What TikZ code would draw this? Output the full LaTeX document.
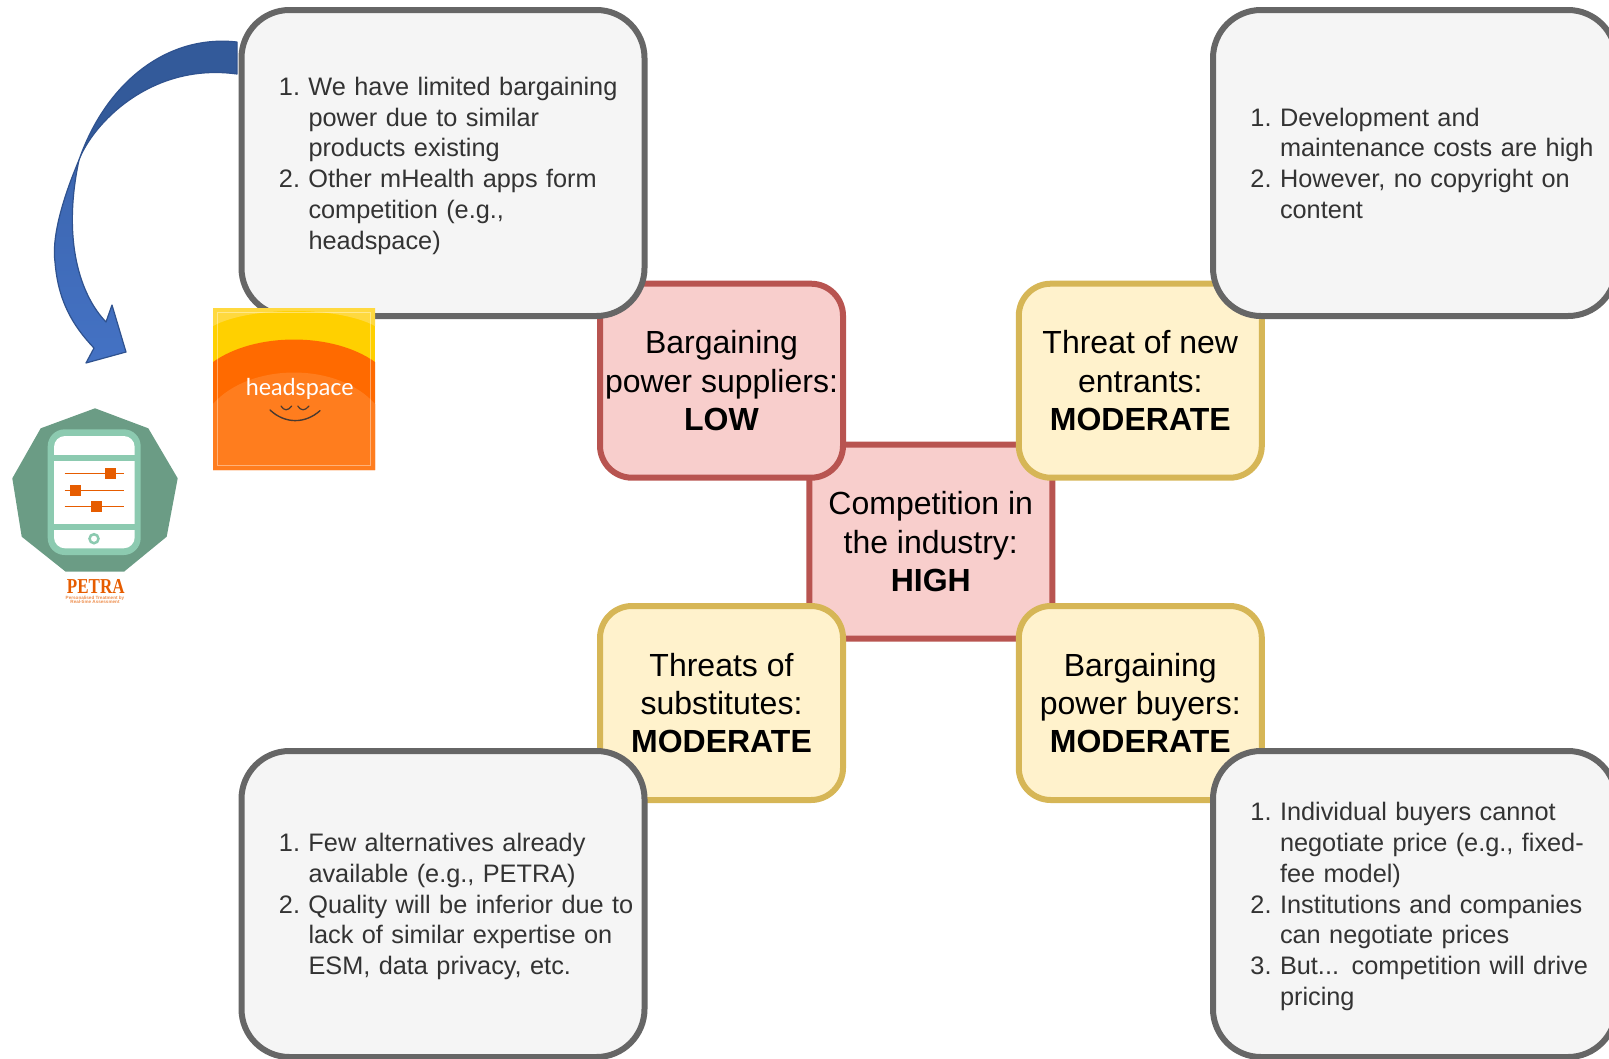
\documentclass[tikz,border=0pt]{standalone}
\usepackage{fontspec}
\setmainfont{Liberation Sans}
\newfontfamily\petrafont{Liberation Serif}
\newfontfamily\hsfont{Lato}
\definecolor{grayline}{HTML}{666666}
\definecolor{grayfill}{HTML}{F5F5F5}
\definecolor{grayink}{HTML}{333333}
\definecolor{redline}{HTML}{B85450}
\definecolor{redfill}{HTML}{F8CECC}
\definecolor{yelline}{HTML}{D6B656}
\definecolor{yelfill}{HTML}{FFF2CC}
\definecolor{arrowline}{HTML}{2F528F}
\definecolor{arrowback}{HTML}{335A9A}
\definecolor{arrowfront}{HTML}{4472C4}
\definecolor{arrowmid}{HTML}{3C66B0}
\definecolor{petragreen}{HTML}{6B9C85}
\definecolor{petralight}{HTML}{8CCAB0}
\definecolor{petraorange}{HTML}{E65C00}
\definecolor{hsyellow}{HTML}{FFD000}
\definecolor{hspale}{HTML}{FFD93F}
\definecolor{hsdeep}{HTML}{FF6A00}
\definecolor{hsorange}{HTML}{FF7D1E}
\definecolor{hssmile}{HTML}{4A3A30}
\tikzset{
  forcebox/.style={draw, line width=6pt, rounded corners=32pt, inner sep=0pt,
    minimum width=243pt, minimum height=194pt, align=center, text=black,
    font=\fontsize{32}{38.4}\selectfont,
    execute at begin node={\rule{0pt}{31pt}}},
  redbox/.style={forcebox, draw=redline, fill=redfill},
  yelbox/.style={forcebox, draw=yelline, fill=yelfill},
  notebox/.style={draw=grayline, fill=grayfill, line width=6pt, rounded corners=48pt,
    inner xsep=4pt, inner ysep=0pt, minimum width=403pt, minimum height=306pt,
    text width=395pt, align=left, text=grayink,
    font=\fontsize{25.3}{30.75}\selectfont,
    execute at begin node={\rule{0pt}{27.5pt}}, execute at end node={\strut}},
}
\newcommand{\numline}[2]{\hspace*{63pt}\llap{#1.\ }#2}
\newcommand{\contline}[1]{\hspace*{63pt}#1}
\begin{document}
\begin{tikzpicture}[x=1pt,y=-1pt]
\useasboundingbox (0,0) rectangle (1609,1058);
\clip (0,0) rectangle (1609,1058);

% block arrow
\draw[arrowline, line width=1.2pt, fill=arrowback, line join=round]
  (237,42) .. controls (165,34) and (105,85) .. (79,160)
  .. controls (92,125) and (150,62) .. (237,74) -- cycle;
\draw[arrowline, line width=1.2pt, top color=arrowmid, bottom color=arrowfront, line join=round]
  (79,160) .. controls (60,205) and (52,240) .. (55,262)
  .. controls (58,300) and (72,325) .. (94,348)
  -- (86,363) -- (126,352) -- (112,305) -- (106,322)
  .. controls (80,295) and (62,240) .. (79,160) -- cycle;

% centre and four forces
\node[redbox] (centre) at (930.75,541.7) {Competition in\\the industry:\\\textbf{HIGH}};
\node[redbox] (suppliers) at (721.5,380.7) {Bargaining\\power suppliers:\\\textbf{LOW}};
\node[yelbox] (entrants) at (1140.3,380.7) {Threat of new\\entrants:\\\textbf{MODERATE}};
\node[yelbox] (substitutes) at (721.5,703) {Threats of\\substitutes:\\\textbf{MODERATE}};
\node[yelbox] (buyers) at (1140.3,703) {Bargaining\\power buyers:\\\textbf{MODERATE}};

% notes
\node[notebox] (notetl) at (443,163) {%
  \numline{1}{We have limited bargaining}\\\contline{power due to similar}\\\contline{products existing}\\%
  \numline{2}{Other mHealth apps form}\\\contline{competition (e.g.,}\\\contline{headspace)}};
\node[notebox] (notetr) at (1414.5,163) {%
  \numline{1}{Development and}\\\contline{maintenance costs are high}\\%
  \numline{2}{However, no copyright on}\\\contline{content}};
\node[notebox] (notebl) at (443,904) {%
  \numline{1}{Few alternatives already}\\\contline{available (e.g., PETRA)}\\%
  \numline{2}{Quality will be inferior due to}\\\contline{lack of similar expertise on}\\\contline{ESM, data privacy, etc.}};
\node[notebox] (notebr) at (1414.5,904) {%
  \numline{1}{Individual buyers cannot}\\\contline{negotiate price (e.g., fixed-}\\\contline{fee model)}\\%
  \numline{2}{Institutions and companies}\\\contline{can negotiate prices}\\%
  \numline{3}{But... competition will drive}\\\contline{pricing}};

% headspace logo
\begin{scope}
  \clip (213,308) rectangle (375,470);
  \fill[hsyellow] (213,308) rectangle (375,470);
  \fill[hspale] (213,326) .. controls (250,306) and (338,306) .. (375,326) -- (375,308) -- (213,308) -- cycle;
  \fill[hsdeep] (213,362) .. controls (255,332) and (333,332) .. (375,362) -- (375,470) -- (213,470) -- cycle;
  \fill[hsorange] (213,404) .. controls (250,362) and (338,362) .. (375,404) -- (375,470) -- (213,470) -- cycle;
  \draw[white, opacity=.4, line width=1pt] (217.3,312.3) rectangle (370.7,465);
\end{scope}
\node[text=white, inner sep=0pt, font=\hsfont\fontsize{23.3}{23.3}\selectfont] (hsname) at (299.7,388.5) {headspace};
\draw[hssmile, line width=1.4pt, line cap=round] (270,410) .. controls (285,424) and (305,424) .. (320,410.7);
\draw[hssmile, line width=1.2pt, line cap=round] (281,406) .. controls (284,411) and (288,411) .. (291.7,406);
\draw[hssmile, line width=1.2pt, line cap=round] (297.7,406) .. controls (301,411) and (305,411) .. (309,406);

% PETRA logo
\fill[petragreen] (95,408.3) -- (148.3,428.3) -- (177.7,478.3) -- (166.7,536.7) -- (124,571.7)
  -- (65.7,571.7) -- (21.7,536.7) -- (12.3,478.3) -- (40.7,428.3) -- cycle;
\fill[petralight, rounded corners=17pt] (47.7,429.3) rectangle (140.7,555);
\fill[white, rounded corners=11pt] (54,436) rectangle (134.7,548.3);
\fill[petralight] (54,455) rectangle (134.7,460.7);
\fill[petralight] (54,524.3) rectangle (134.7,530);
\draw[petraorange, line width=1.5pt] (64.7,473.7) -- (123.7,473.7);
\draw[petraorange, line width=1.5pt] (64.7,490.7) -- (123.7,490.7);
\draw[petraorange, line width=1.5pt] (64.7,506.7) -- (123.7,506.7);
\fill[petraorange] (105.2,468.2) rectangle (116.2,479.2);
\fill[petraorange] (69.8,485.2) rectangle (80.8,496.2);
\fill[petraorange] (90.8,501.2) rectangle (101.8,512.2);
\draw[petralight, line width=2.5pt] (94,538.7) circle (4.5pt);
\node[text=petraorange, inner sep=0pt, font=\petrafont\bfseries\fontsize{17}{17}\selectfont] (petraname) at (95.8,586) {\scalebox{1}[1.25]{PETRA}};
\node[text=petraorange!70, inner sep=0pt, align=center, font=\bfseries\fontsize{4.6}{4.6}\selectfont] (petrasub) at (95,600) {Personalised Treatment by\\Real-time Assessment};
\end{tikzpicture}
\end{document}
